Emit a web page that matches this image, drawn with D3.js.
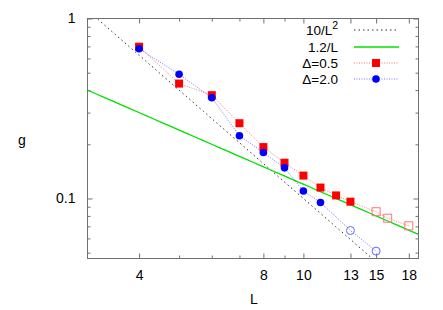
<!DOCTYPE html>
<html>
<head>
<meta charset="utf-8">
<script src="https://cdnjs.cloudflare.com/ajax/libs/d3/7.8.5/d3.min.js"></script>
<style>
  body { margin: 0; background: #fff; }
  svg { display: block; font-family: "Liberation Sans", Arial, Helvetica, sans-serif; }
</style>
</head>
<body>
<svg id="chart" width="443" height="310"></svg>
<script>
// ---- data ----
const redL      = [4, 5, 6, 7, 8, 9, 10, 11, 12, 13, 15, 16, 18];
const redG      = [0.697, 0.435, 0.375, 0.262, 0.193, 0.158, 0.134, 0.115, 0.104, 0.096, 0.0844, 0.0777, 0.0705];
const redOpen   = [false, false, false, false, false, false, false, false, false, false, true, true, true];
const blueL     = [4, 5, 6, 7, 8, 9, 10, 11, 13, 15];
const blueG     = [0.679, 0.490, 0.363, 0.223, 0.180, 0.148, 0.110, 0.095, 0.0664, 0.0510];
const blueOpen  = [false, false, false, false, false, false, false, false, true, true];
const xMajor    = [4, 8, 10, 13, 15, 18];
const xMinor    = [5, 6, 7, 9];
const yMajor    = [1, 0.1];
const yMinor    = [0.9, 0.8, 0.7, 0.6, 0.5, 0.4, 0.3, 0.2, 0.09, 0.08, 0.07, 0.06, 0.05];
const legendLabels = ["10/L", "1.2/L", "Δ=0.5", "Δ=2.0"];

// ---- layout ----
const svg = d3.select("#chart");
const L = 87.5, R = 418.5, T = 18.5, B = 258.5;
const x = d3.scaleLog().domain([3, 19]).range([L, R]);
const y = d3.scaleLog().domain([0.0464, 1]).range([B, T]);
const frameColor = "#707070";
const font = 14;

svg.append("defs").append("clipPath").attr("id", "clip")
  .append("rect").attr("x", L).attr("y", T).attr("width", R - L).attr("height", B - T);

// axes with inward ticks
function styleAxis(g) {
  g.select(".domain").remove();
  g.selectAll("line").attr("stroke", frameColor);
  g.selectAll("text").attr("fill", "#000").attr("font-size", font)
    .attr("font-family", '"Liberation Sans", Arial, sans-serif');
}
svg.append("g").attr("transform", `translate(0,${B})`)
  .call(d3.axisBottom(x).tickValues(xMajor).tickSizeInner(-5).tickSizeOuter(0).tickPadding(12).tickFormat(d3.format("d")))
  .call(styleAxis);
svg.append("g").attr("transform", `translate(0,${B})`)
  .call(d3.axisBottom(x).tickValues(xMinor).tickSizeInner(-3).tickSizeOuter(0).tickFormat(""))
  .call(styleAxis);
svg.append("g").attr("transform", `translate(0,${T})`)
  .call(d3.axisTop(x).tickValues(xMajor).tickSizeInner(-5).tickSizeOuter(0).tickFormat(""))
  .call(styleAxis);
svg.append("g").attr("transform", `translate(0,${T})`)
  .call(d3.axisTop(x).tickValues(xMinor).tickSizeInner(-3).tickSizeOuter(0).tickFormat(""))
  .call(styleAxis);
svg.append("g").attr("transform", `translate(${L},0)`)
  .call(d3.axisLeft(y).tickValues(yMajor).tickSizeInner(-5).tickSizeOuter(0).tickPadding(12).tickFormat(d => d === 1 ? "1" : "0.1"))
  .call(styleAxis);
svg.append("g").attr("transform", `translate(${L},0)`)
  .call(d3.axisLeft(y).tickValues(yMinor).tickSizeInner(-3).tickSizeOuter(0).tickFormat(""))
  .call(styleAxis);
svg.append("g").attr("transform", `translate(${R},0)`)
  .call(d3.axisRight(y).tickValues(yMajor).tickSizeInner(-5).tickSizeOuter(0).tickFormat(""))
  .call(styleAxis);
svg.append("g").attr("transform", `translate(${R},0)`)
  .call(d3.axisRight(y).tickValues(yMinor).tickSizeInner(-3).tickSizeOuter(0).tickFormat(""))
  .call(styleAxis);

// frame
svg.append("rect").attr("x", L).attr("y", T).attr("width", R - L).attr("height", B - T)
  .attr("fill", "none").attr("stroke", frameColor).attr("stroke-width", 1);

// axis titles
svg.append("text").attr("x", (L + R) / 2 + 1).attr("y", 304).attr("text-anchor", "middle")
  .attr("font-size", font).text("L");
svg.append("text").attr("x", 22).attr("y", 145).attr("text-anchor", "middle")
  .attr("font-size", font).text("g");

// reference curves
const plot = svg.append("g").attr("clip-path", "url(#clip)");
const Ls = d3.range(0, 41).map(i => 3 * Math.pow(19 / 3, i / 40));
const lineGen = d3.line().x(d => x(d[0])).y(d => y(d[1]));
plot.append("path").datum(Ls.map(l => [l, 10 / (l * l)]))
  .attr("d", lineGen).attr("fill", "none").attr("stroke", "#333")
  .attr("stroke-width", 1).attr("stroke-dasharray", "1.5,3");
plot.append("path").datum(Ls.map(l => [l, 1.2 / l]))
  .attr("d", lineGen).attr("fill", "none").attr("stroke", "#00e000").attr("stroke-width", 1.3);

// data series
function series(Ls_, Gs, open, color, lightColor, shape) {
  const pts = Ls_.map((l, i) => ({ l, g: Gs[i], open: open[i] }));
  plot.append("path").datum(pts.map(p => [p.l, p.g]))
    .attr("d", lineGen).attr("fill", "none").attr("stroke", color)
    .attr("stroke-width", 1).attr("stroke-opacity", 0.55).attr("stroke-dasharray", "1,1.5");
  const g = plot.append("g");
  pts.forEach(p => {
    const cx = x(p.l), cy = y(p.g);
    let m;
    if (shape === "square") {
      m = g.append("rect").attr("x", cx - 4).attr("y", cy - 4).attr("width", 8).attr("height", 8);
    } else {
      m = g.append("circle").attr("cx", cx).attr("cy", cy).attr("r", p.open ? 4 : 3.8);
    }
    if (p.open) m.attr("fill", "none").attr("stroke", lightColor).attr("stroke-width", 1);
    else m.attr("fill", color);
  });
}
series(redL, redG, redOpen, "#ff0000", "#f77", "square");
series(blueL, blueG, blueOpen, "#0000ff", "#66f", "circle");

// legend
const rowY = [30, 47, 63, 79];
const tx = 338, s0 = 354, s1 = 399, sm = 376;
const leg = svg.append("g").attr("font-size", 13.5);
legendLabels.forEach((lab, i) => {
  const t = leg.append("text").attr("x", tx).attr("y", rowY[i] + 5).attr("text-anchor", "end");
  if (i === 0) {
    t.append("tspan").text(lab);
    t.append("tspan").attr("dy", -6).attr("font-size", 10.5).text("2");
  } else t.text(lab);
});
leg.append("line").attr("x1", s0).attr("x2", s1).attr("y1", rowY[0]).attr("y2", rowY[0])
  .attr("stroke", "#333").attr("stroke-dasharray", "1.5,3");
leg.append("line").attr("x1", s0).attr("x2", s1).attr("y1", rowY[1]).attr("y2", rowY[1])
  .attr("stroke", "#00e000").attr("stroke-width", 1.3);
leg.append("line").attr("x1", s0).attr("x2", s1).attr("y1", rowY[2]).attr("y2", rowY[2])
  .attr("stroke", "#ff0000").attr("stroke-opacity", 0.55).attr("stroke-dasharray", "1,1.5");
leg.append("rect").attr("x", sm - 4).attr("y", rowY[2] - 4).attr("width", 8).attr("height", 8).attr("fill", "#ff0000");
leg.append("line").attr("x1", s0).attr("x2", s1).attr("y1", rowY[3]).attr("y2", rowY[3])
  .attr("stroke", "#0000ff").attr("stroke-opacity", 0.55).attr("stroke-dasharray", "1,1.5");
leg.append("circle").attr("cx", sm).attr("cy", rowY[3]).attr("r", 3.8).attr("fill", "#0000ff");
</script>
</body>
</html>
